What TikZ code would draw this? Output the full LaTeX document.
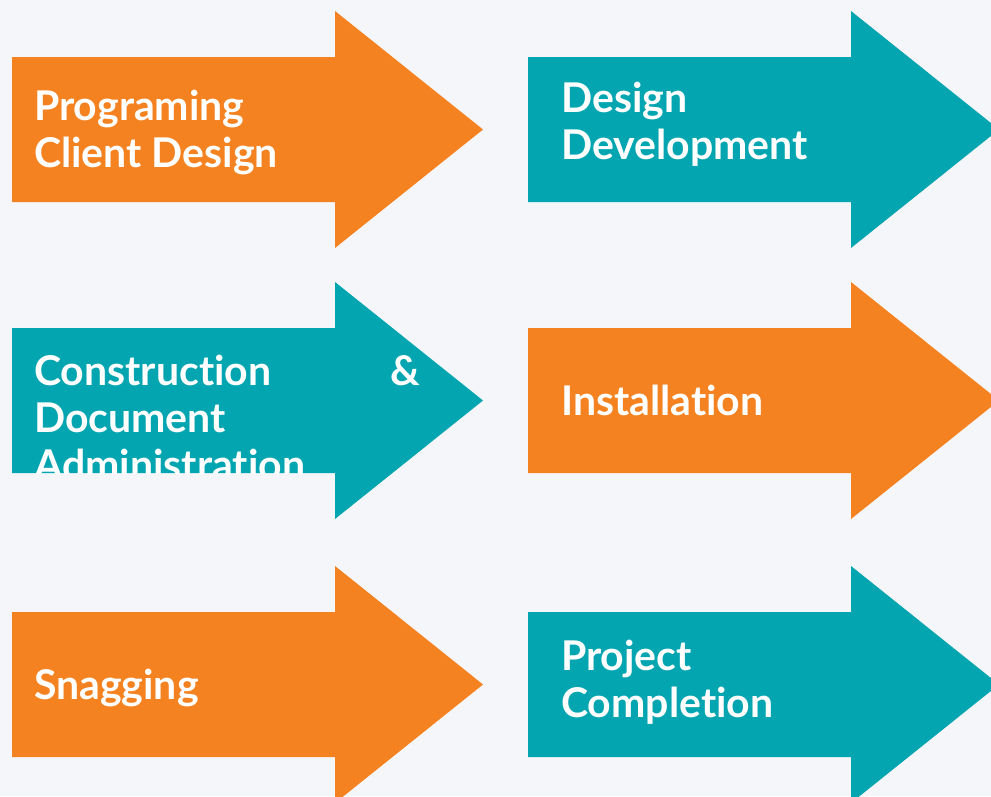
\documentclass[tikz,border=0pt]{standalone}
\usepackage{fontspec}
\setmainfont{Lato}[Ligatures=NoCommon]
\usepackage{tikz}

\definecolor{bgc}{HTML}{F5F6FA}
\definecolor{orangec}{HTML}{F58220}
\definecolor{tealc}{HTML}{03A5B0}

\begin{document}
\begin{tikzpicture}[x=1pt, y=-1pt,
    stage/.style={anchor=base west, inner sep=0pt, text=white, align=left,
                  font=\fontsize{41}{47}\selectfont\bfseries}]
    \useasboundingbox (0,0) rectangle (991,796);
    \clip (0,0) rectangle (991,796);
    \fill[bgc] (0,0) rectangle (991,796);

    % Arrows (left edge, body top, colour)
    \foreach \x/\y/\c in {12/57/orangec, 528/57/tealc, 12/328/tealc,
                          528/328/orangec, 12/612/orangec, 528/612/tealc}
        \fill[\c] (\x,\y) -- ++(323,0) -- ++(0,-46) -- ++(148,118.5)
            -- ++(-148,118.5) -- ++(0,-46) -- ++(-323,0) -- cycle;

    % Labels (base = last line)
    \node[stage] (prog) at (34,167) {Programing\\Client Design};
    \node[stage] (design) at (561,159) {Design\\Development};
    \begin{scope}
        \clip (12,282) rectangle (483,473);
        \node[stage, text width=386pt] (constr) at (34,385)
            {Construction\hfill\&\\Document\\Administration};
    \end{scope}
    \node[stage] (install) at (561,415) {Installation};
    \node[stage] (snag) at (34,699) {Snagging};
    \node[stage] (project) at (561,717) {Project\\Completion};
\end{tikzpicture}
\end{document}
